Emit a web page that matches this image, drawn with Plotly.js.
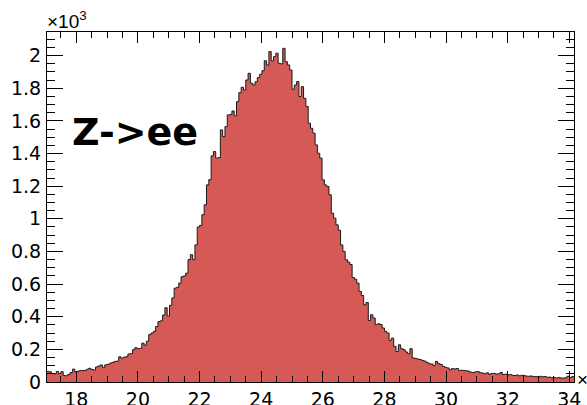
<!DOCTYPE html>
<html>
<head>
<meta charset="utf-8">
<script src="https://cdn.plot.ly/plotly-3.0.1.min.js"></script>
<style>
  html, body { margin: 0; padding: 0; background: #fff; }
  #chart { width: 587px; height: 405px; }
</style>
</head>
<body>
<div id="chart"></div>
<script>
// Histogram binning (x in units of 10^3)
const binLow = 17.05;
const binWidth = 0.075;
// Bin contents (in units of 10^3 entries)
const counts = [
  0.065, 0.062, 0.052, 0.050, 0.064, 0.052, 0.063, 0.040, 0.038, 0.047,
  0.058, 0.079, 0.063, 0.066, 0.070, 0.071, 0.070, 0.078, 0.084, 0.077,
  0.074, 0.092, 0.098, 0.104, 0.090, 0.105, 0.108, 0.115, 0.120, 0.126,
  0.128, 0.154, 0.146, 0.152, 0.155, 0.172, 0.174, 0.198, 0.210, 0.204,
  0.206, 0.238, 0.226, 0.250, 0.290, 0.300, 0.310, 0.340, 0.370, 0.375,
  0.410, 0.455, 0.405, 0.470, 0.515, 0.575, 0.580, 0.606, 0.645, 0.650,
  0.667, 0.750, 0.780, 0.750, 0.840, 0.950, 0.960, 1.025, 1.086, 1.208,
  1.240, 1.386, 1.412, 1.372, 1.375, 1.545, 1.504, 1.565, 1.637, 1.640,
  1.661, 1.631, 1.718, 1.773, 1.806, 1.790, 1.851, 1.892, 1.831, 1.820,
  1.840, 1.866, 1.886, 1.908, 1.969, 1.943, 2.025, 1.969, 1.994, 2.015,
  1.953, 1.950, 2.045, 1.963, 1.943, 1.912, 1.794, 1.820, 1.841, 1.749,
  1.810, 1.739, 1.688, 1.586, 1.555, 1.525, 1.453, 1.402, 1.372, 1.239,
  1.208, 1.198, 1.147, 1.035, 1.004, 0.963, 0.930, 0.840, 0.800, 0.749,
  0.735, 0.720, 0.640, 0.630, 0.606, 0.555, 0.530, 0.473, 0.487, 0.377,
  0.412, 0.392, 0.351, 0.357, 0.352, 0.331, 0.310, 0.300, 0.255, 0.269,
  0.218, 0.187, 0.228, 0.204, 0.198, 0.184, 0.173, 0.204, 0.147, 0.145,
  0.141, 0.138, 0.132, 0.128, 0.120, 0.112, 0.110, 0.100, 0.126, 0.112,
  0.108, 0.096, 0.090, 0.086, 0.075, 0.082, 0.080, 0.083, 0.071, 0.072,
  0.070, 0.069, 0.066, 0.060, 0.058, 0.062, 0.064, 0.057, 0.055, 0.050,
  0.056, 0.047, 0.052, 0.053, 0.049, 0.050, 0.058, 0.046, 0.048, 0.044,
  0.046, 0.041, 0.040, 0.043, 0.038, 0.041, 0.040, 0.036, 0.035, 0.037,
  0.033, 0.034, 0.030, 0.035, 0.032, 0.034, 0.029, 0.030, 0.026, 0.028,
  0.024, 0.027, 0.025, 0.023, 0.026, 0.035, 0.028, 0.033
];
const xTickVals = [18, 20, 22, 24, 26, 28, 30, 32, 34];
const yTickVals = [0, 0.2, 0.4, 0.6, 0.8, 1, 1.2, 1.4, 1.6, 1.8, 2];
const labelText = 'Z->ee';
const exponentText = '×10<sup>3</sup>';

// build step outline from bin edges
const edges = [];
const stepY = [];
for (let i = 0; i <= counts.length; i++) {
  edges.push(binLow + i * binWidth);
  stepY.push(i < counts.length ? counts[i] : counts[counts.length - 1]);
}
const xMax = binLow + counts.length * binWidth;

const trace = {
  type: 'scatter',
  mode: 'lines',
  x: edges,
  y: stepY,
  line: { shape: 'hv', color: '#1a1a1a', width: 1 },
  fill: 'tozeroy',
  fillcolor: '#d55a56',
  hoverinfo: 'skip'
};

const tickFont = { family: 'DejaVu Sans', size: 19, color: '#000' };
const expFont = { family: 'Liberation Sans', size: 19, color: '#000' };

const layout = {
  width: 587,
  height: 405,
  margin: { l: 47, r: 13, t: 32, b: 23 },
  paper_bgcolor: '#fff',
  plot_bgcolor: '#fff',
  showlegend: false,
  xaxis: {
    range: [binLow, xMax],
    tickvals: xTickVals,
    ticktext: xTickVals.map(String),
    ticks: 'inside',
    ticklen: 11,
    tickwidth: 1,
    tickcolor: '#000',
    minor: { dtick: 0.5, tick0: 0, ticks: 'inside', ticklen: 6, tickcolor: '#000', tickwidth: 1, showgrid: false },
    showline: true,
    linecolor: '#000',
    linewidth: 1,
    mirror: 'allticks',
    showgrid: false,
    zeroline: false,
    tickfont: tickFont,
    ticklabelstandoff: 0
  },
  yaxis: {
    range: [0, 2.145],
    tickvals: yTickVals,
    ticktext: yTickVals.map(String),
    ticks: 'inside',
    ticklen: 16,
    tickwidth: 1,
    tickcolor: '#000',
    minor: { dtick: 0.05, tick0: 0, ticks: 'inside', ticklen: 8, tickcolor: '#000', tickwidth: 1, showgrid: false },
    showline: true,
    linecolor: '#000',
    linewidth: 1,
    mirror: 'allticks',
    showgrid: false,
    zeroline: false,
    tickfont: tickFont,
    ticklabelstandoff: 1
  },
  annotations: [
    {
      text: labelText,
      xref: 'paper', yref: 'paper',
      x: 0.043, y: 0.715,
      xanchor: 'left', yanchor: 'middle',
      showarrow: false,
      font: { family: 'DejaVu Sans', size: 38, color: '#000', weight: 'bold' }
    },
    {
      text: exponentText,
      xref: 'paper', yref: 'paper',
      x: 0, y: 1,
      xanchor: 'left', yanchor: 'bottom',
      xshift: -2, yshift: -2,
      showarrow: false,
      font: expFont
    },
    {
      text: exponentText,
      xref: 'paper', yref: 'paper',
      x: 1, y: 0,
      xanchor: 'left', yanchor: 'middle',
      xshift: 1, yshift: 4,
      showarrow: false,
      font: expFont
    }
  ]
};

Plotly.newPlot('chart', [trace], layout, { staticPlot: true, displayModeBar: false });
</script>
</body>
</html>
